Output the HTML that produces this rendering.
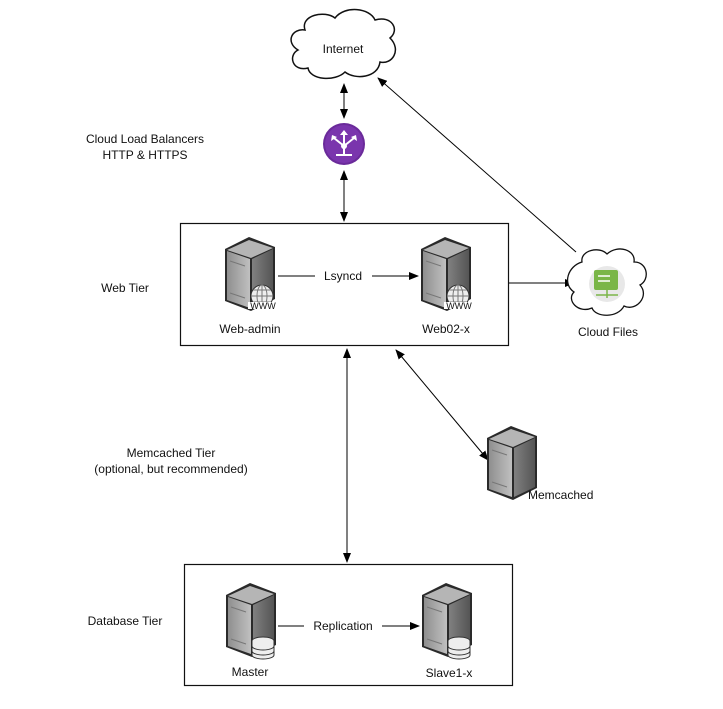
<!DOCTYPE html>
<html><head><meta charset="utf-8"><style>
html,body{margin:0;padding:0;background:#fff;}
svg{display:block;}
text{font-family:"Liberation Sans",Arial,sans-serif;font-size:12px;fill:#111;}
</style></head><body>
<svg width="723" height="709" viewBox="0 0 723 709" xmlns="http://www.w3.org/2000/svg">
<defs>
<marker id="a" markerWidth="10" markerHeight="8" refX="9" refY="4" orient="auto" markerUnits="userSpaceOnUse"><path d="M0,0 L10,4 L0,8 z" fill="#000"/></marker>
<marker id="s" markerWidth="10" markerHeight="8" refX="1" refY="4" orient="auto" markerUnits="userSpaceOnUse"><path d="M10,0 L0,4 L10,8 z" fill="#000"/></marker>
<linearGradient id="gf" x1="0" x2="1"><stop offset="0" stop-color="#8f8f8f"/><stop offset="1" stop-color="#c0c0c0"/></linearGradient>
<linearGradient id="gs" x1="0" x2="1"><stop offset="0" stop-color="#808080"/><stop offset="1" stop-color="#555"/></linearGradient>
<g id="srv">
<path d="M0,12 L24,0 L50,10 L50,62 L26,74 L0,64 z" fill="#2a2a2a"/>
<path d="M2,13 L24,3 L48,11 L26,21 z" fill="#b5b5b5"/>
<path d="M2,14 L25,22 L25,71 L2,63 z" fill="url(#gf)"/>
<path d="M27,22 L48,12 L48,61 L27,71 z" fill="url(#gs)"/>
<line x1="5" y1="24" x2="20" y2="29" stroke="#777"/>
<line x1="5" y1="56" x2="20" y2="61" stroke="#777"/>
</g>
<g id="www">
<circle cx="0" cy="0" r="11" fill="#eee" stroke="#333"/>
<path d="M-11,0 H11 M0,-11 V11 M-9,-6 H9 M-9,6 H9" stroke="#777" fill="none"/>
<ellipse cx="0" cy="0" rx="5" ry="11" fill="none" stroke="#777"/>
<rect x="-14" y="6" width="30" height="7" fill="#fff"/>
<text x="1" y="13" text-anchor="middle" style="font-size:9px">WWW</text>
</g>
<g id="db">
<ellipse cx="0" cy="0" rx="11" ry="4" fill="#eee" stroke="#333"/>
<path d="M-11,0 V14 A11,4 0 0 0 11,14 V0" fill="#eee" stroke="#333"/>
<path d="M-11,5 A11,4 0 0 0 11,5 M-11,10 A11,4 0 0 0 11,10" fill="none" stroke="#333"/>
</g>
</defs>

<path d="M305,30 C300,15 325,10 335,18 C345,5 370,8 375,20 C392,15 400,30 390,38 C402,50 392,65 380,62 C378,78 355,80 345,72 C335,82 310,80 308,68 C292,72 288,55 298,50 C285,42 292,28 305,30 z" fill="#fff" stroke="#111" stroke-width="1.5"/>
<text x="343" y="53" text-anchor="middle">Internet</text>

<circle cx="344" cy="144" r="21" fill="#6a2a9a"/>
<circle cx="344" cy="144" r="19" fill="#7a35ad"/>
<path d="M344,146 V133 M344,146 L334,138 M344,146 L354,138 M344,146 V155 M336,155 H352" stroke="#fff" stroke-width="2" fill="none"/>
<path d="M340,135 L344,130 L348,135 z M331,141 L332,135 L337,137 z M357,141 L356,135 L351,137 z" fill="#fff"/>
<circle cx="344" cy="146" r="3" fill="#fff"/>
<text x="145" y="143" text-anchor="middle">Cloud Load Balancers</text>
<text x="145" y="159" text-anchor="middle">HTTP &amp; HTTPS</text>

<line x1="344" y1="84" x2="344" y2="118" stroke="#000" marker-start="url(#s)" marker-end="url(#a)"/>
<line x1="344" y1="171" x2="344" y2="221" stroke="#000" marker-start="url(#s)" marker-end="url(#a)"/>
<line x1="576" y1="252" x2="378" y2="78" stroke="#000" marker-end="url(#a)"/>
<line x1="509" y1="283" x2="574" y2="283" stroke="#000" marker-end="url(#a)"/>
<line x1="347" y1="349" x2="347" y2="562" stroke="#000" marker-start="url(#s)" marker-end="url(#a)"/>
<line x1="396" y1="350" x2="488" y2="460" stroke="#000" marker-start="url(#s)" marker-end="url(#a)"/>

<rect x="180.5" y="223.5" width="328" height="122" fill="#fff" stroke="#111" stroke-width="1.2"/>
<text x="125" y="292" text-anchor="middle">Web Tier</text>
<use href="#srv" x="225" y="237"/>
<use href="#www" x="262" y="296"/>
<use href="#srv" x="421" y="237"/>
<use href="#www" x="458" y="296"/>
<line x1="278" y1="276" x2="315" y2="276" stroke="#000"/>
<line x1="372" y1="276" x2="418" y2="276" stroke="#000" marker-end="url(#a)"/>
<text x="343" y="280" text-anchor="middle">Lsyncd</text>
<text x="250" y="333" text-anchor="middle">Web-admin</text>
<text x="446" y="333" text-anchor="middle">Web02-x</text>

<path d="M582,262 C580,250 600,246 607,254 C618,244 636,250 634,262 C648,262 650,280 640,285 C650,296 636,312 624,306 C618,318 596,318 592,308 C578,314 566,300 574,292 C562,284 568,266 582,262 z" fill="#fff" stroke="#111" stroke-width="1.3"/>
<circle cx="607" cy="284" r="18" fill="#e8e8e8"/>
<rect x="594" y="270" width="24" height="20" rx="2" fill="#7ab648"/>
<path d="M598,276 H610 M598,281 H610" stroke="#fff" stroke-width="1.5"/>
<path d="M596,295 H618 M607,290 V298" stroke="#7ab648" stroke-width="1.5"/>
<text x="608" y="336" text-anchor="middle">Cloud Files</text>

<text x="171" y="457" text-anchor="middle">Memcached Tier</text>
<text x="171" y="473" text-anchor="middle">(optional, but recommended)</text>
<use href="#srv" x="487" y="426"/>
<text x="528" y="499">Memcached</text>

<rect x="184.5" y="564.5" width="328" height="121" fill="#fff" stroke="#111" stroke-width="1.2"/>
<text x="125" y="625" text-anchor="middle">Database Tier</text>
<use href="#srv" x="226" y="583"/>
<use href="#db" x="263" y="641"/>
<use href="#srv" x="422" y="583"/>
<use href="#db" x="459" y="641"/>
<line x1="278" y1="626" x2="304" y2="626" stroke="#000"/>
<line x1="382" y1="626" x2="419" y2="626" stroke="#000" marker-end="url(#a)"/>
<text x="343" y="630" text-anchor="middle">Replication</text>
<text x="250" y="676" text-anchor="middle">Master</text>
<text x="449" y="677" text-anchor="middle">Slave1-x</text>
</svg>
</body></html>
